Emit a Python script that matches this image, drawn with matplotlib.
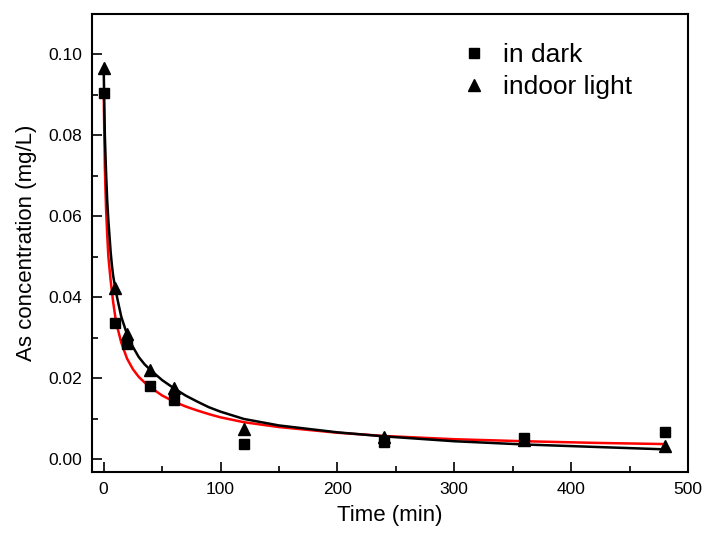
import matplotlib
matplotlib.use('Agg')
import matplotlib.pyplot as plt
from matplotlib.ticker import MultipleLocator

plt.rcParams['font.family'] = ['Liberation Sans', 'DejaVu Sans']

# measured points
t_meas = [0, 10, 20, 40, 60, 120, 240, 360, 480]
dark = [0.0905, 0.0336, 0.0284, 0.0180, 0.0146, 0.0037, 0.0043, 0.0052, 0.0068]
light = [0.0965, 0.0422, 0.0310, 0.0220, 0.0175, 0.0074, 0.0054, 0.0048, 0.0032]

# fitted curves
t_fit = [0, 1, 2, 3, 4, 5, 6, 7, 8, 10, 12, 15, 20, 25, 30, 35, 40, 50, 60, 70, 80, 90,
         100, 120, 150, 200, 240, 300, 360, 420, 480]
fit_dark = [0.0905, 0.0720, 0.0620, 0.0555, 0.0500, 0.0470, 0.0440, 0.0415, 0.0390, 0.0350,
            0.0322, 0.0288, 0.0248, 0.0222, 0.0203, 0.0189, 0.0177, 0.0157, 0.0142, 0.0130,
            0.0120, 0.0111, 0.0103, 0.0091, 0.0079, 0.0065, 0.0057, 0.0049, 0.0044, 0.0040, 0.0037]
fit_light = [0.0965, 0.0800, 0.0710, 0.0640, 0.0590, 0.0550, 0.0510, 0.0480, 0.0455, 0.0420,
             0.0392, 0.0352, 0.0308, 0.0277, 0.0252, 0.0234, 0.0220, 0.0195, 0.0175, 0.0157,
             0.0142, 0.0128, 0.0117, 0.0099, 0.0083, 0.0066, 0.0056, 0.0044, 0.0036, 0.0030, 0.0024]

fig = plt.figure(figsize=(7.06, 5.40), dpi=100)
ax = fig.add_axes([0.1303, 0.1259, 0.8442, 0.8481])

ax.plot(t_fit, fit_dark, color='#ff0000', lw=1.8, zorder=2)
ax.plot(t_fit, fit_light, color='black', lw=1.8, zorder=3)
ax.plot(t_meas, dark, 's', color='black', ms=6.5, ls='none', label='in dark', zorder=4)
ax.plot(t_meas, light, '^', color='black', ms=8.5, ls='none', label='indoor light', zorder=4)

ax.set_xlim(-10, 500)
ax.set_ylim(-0.0032, 0.1099)
ax.xaxis.set_major_locator(MultipleLocator(100))
ax.xaxis.set_minor_locator(MultipleLocator(50))
ax.yaxis.set_major_locator(MultipleLocator(0.02))
ax.yaxis.set_minor_locator(MultipleLocator(0.01))
ax.yaxis.set_major_formatter(plt.FormatStrFormatter('%.2f'))
ax.tick_params(which='major', direction='in', length=7, width=1.2, labelsize=12.5, pad=7)
ax.tick_params(which='minor', direction='in', length=4, width=1.2)
for s in ax.spines.values():
    s.set_linewidth(1.5)

ax.set_xlabel('Time (min)', fontsize=16, labelpad=6)
ax.set_ylabel('As concentration (mg/L)', fontsize=16, labelpad=8)

ax.legend(loc='upper left', bbox_to_anchor=(0.652, 0.92), bbox_transform=fig.transFigure,
          frameon=False, fontsize=19, handlelength=1.0, handletextpad=0.6,
          borderpad=0, borderaxespad=0, labelspacing=0.3)

fig.savefig('out.png', dpi=100)
